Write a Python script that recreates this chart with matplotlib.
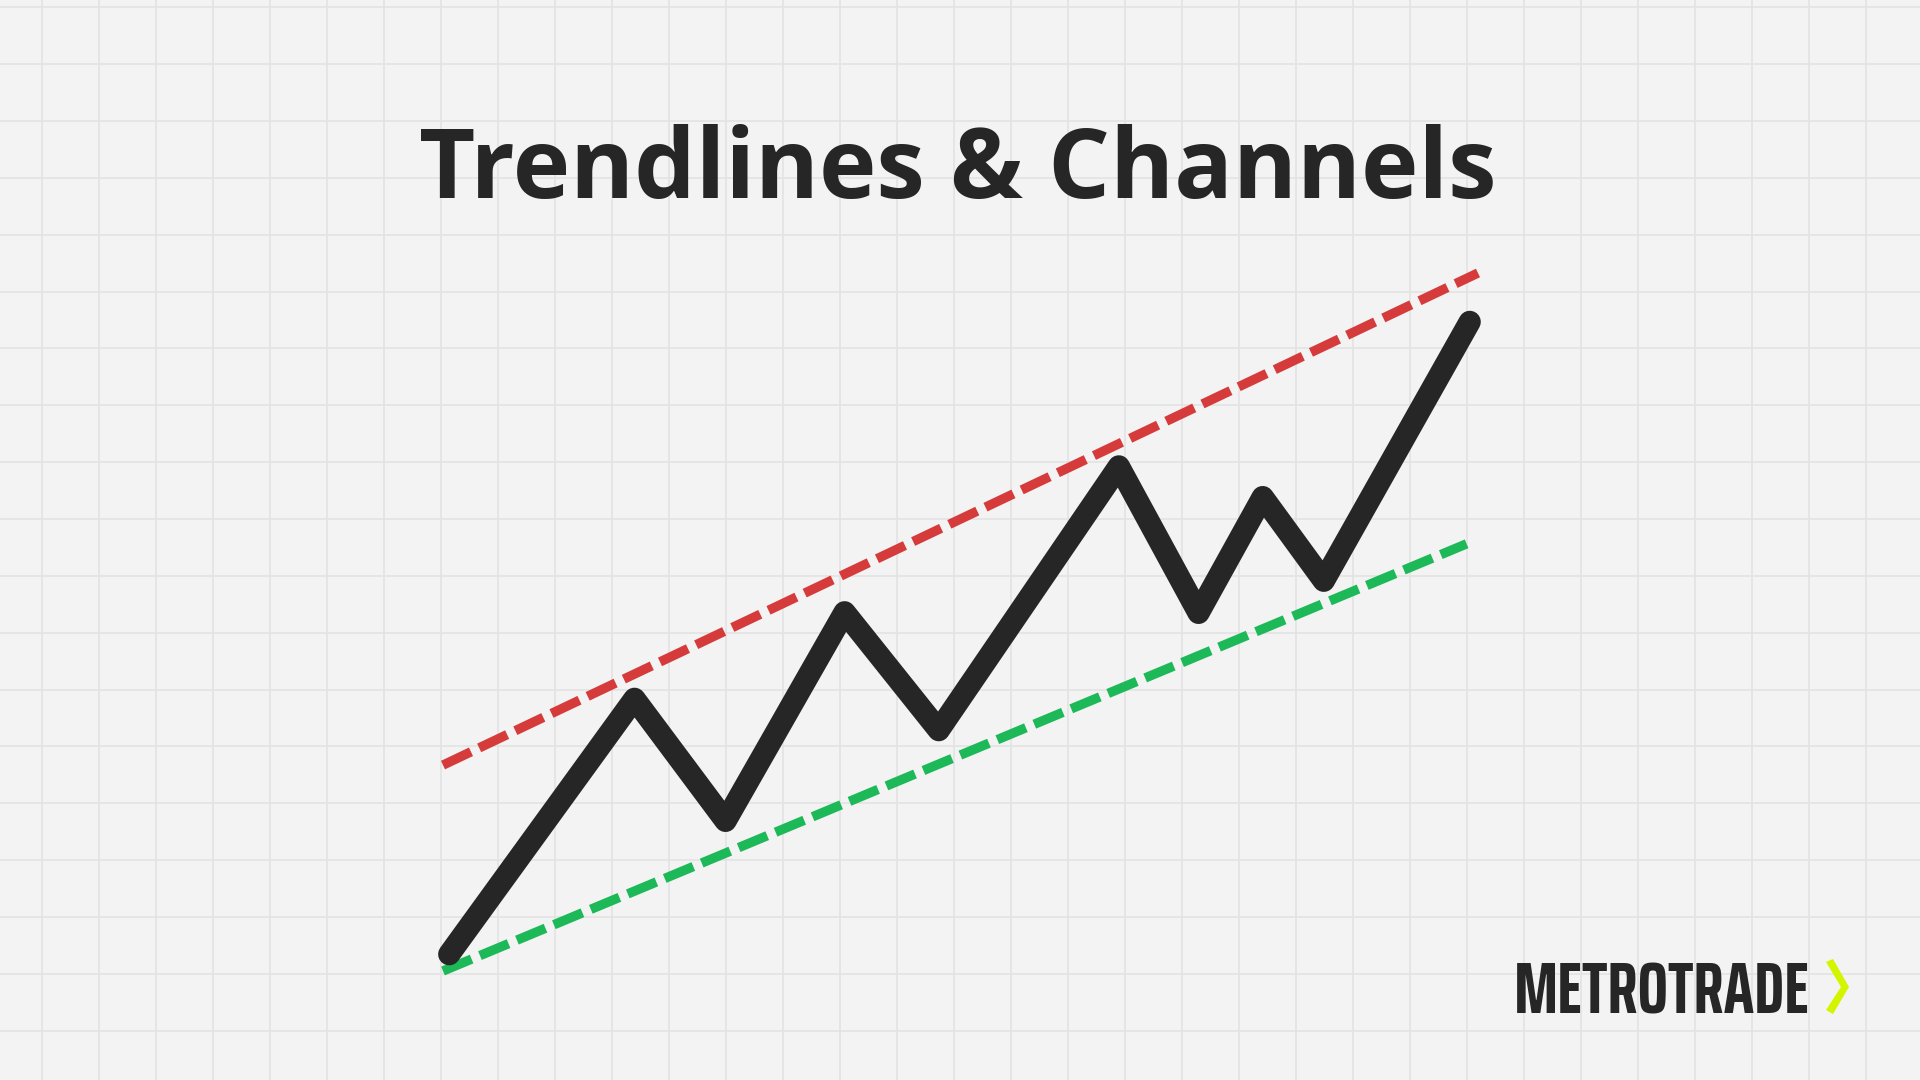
import numpy as np
import matplotlib
matplotlib.use("Agg")
import matplotlib.pyplot as plt

# price path (time units, price units)
t_path = [0.06, 1.85, 2.73, 3.88, 4.79, 6.53, 7.30, 7.92, 8.51, 9.92]
p_path = [2.4, 39.0, 21.5, 51.4, 34.5, 72.3, 51.3, 67.9, 55.9, 93.0]

# channel lines
t_res = [0.0, 10.0]
p_res = [29.5, 100.0]
t_sup = [0.0, 9.89]
p_sup = [0.0, 61.2]

title = "Trendlines & Channels"
brand = "METROTRADE"

bg_col = "#f3f3f3"
grid_col = "#e3e3e3"
ink = "#262626"
red = "#d63b3b"
green = "#1db858"
lime = "#d4f500"

fig = plt.figure(figsize=(19.2, 10.8), dpi=100, facecolor=bg_col)

# background grid paper
bg = fig.add_axes([0, 0, 1, 1])
bg.set_xlim(0, 1920)
bg.set_ylim(1080, 0)
bg.set_facecolor(bg_col)
bg.axis("off")
for gx in np.arange(41.7, 1920, 57.0):
    bg.axvline(gx, color=grid_col, lw=1.2, zorder=0)
for gy in np.arange(7.3, 1080, 56.85):
    bg.axhline(gy, color=grid_col, lw=1.2, zorder=0)

# chevron of the logo
bg.fill([1826, 1833, 1849, 1833, 1826, 1841], [962, 959, 987, 1014, 1010, 987],
        color=lime, lw=0, zorder=3)

ax = fig.add_axes([443 / 1920, 109 / 1080, 1035 / 1920, 698 / 1080])
ax.set_xlim(0, 10)
ax.set_ylim(0, 100)
ax.axis("off")
ax.patch.set_alpha(0)

ax.plot(t_res, p_res, color=red, lw=6.8, dashes=(3.28, 0.96), clip_on=False, zorder=2)
ax.plot(t_sup, p_sup, color=green, lw=6.8, dashes=(3.28, 0.96), clip_on=False, zorder=2)
ax.plot(t_path, p_path, color=ink, lw=16, solid_joinstyle="round",
        solid_capstyle="round", clip_on=False, zorder=3)

fig.text(0.499, 1 - 198 / 1080, title, ha="center", va="baseline",
         fontsize=70, fontweight="bold", color=ink, family=["Open Sans", "DejaVu Sans"])

fig.text(1810 / 1920, 1 - 1013 / 1080, brand, ha="right", va="baseline",
         fontsize=52, fontweight="bold", color=ink,
         family=["Saira ExtraCondensed", "DejaVu Sans"])

fig.savefig("out.png", dpi=100, facecolor=bg_col)
